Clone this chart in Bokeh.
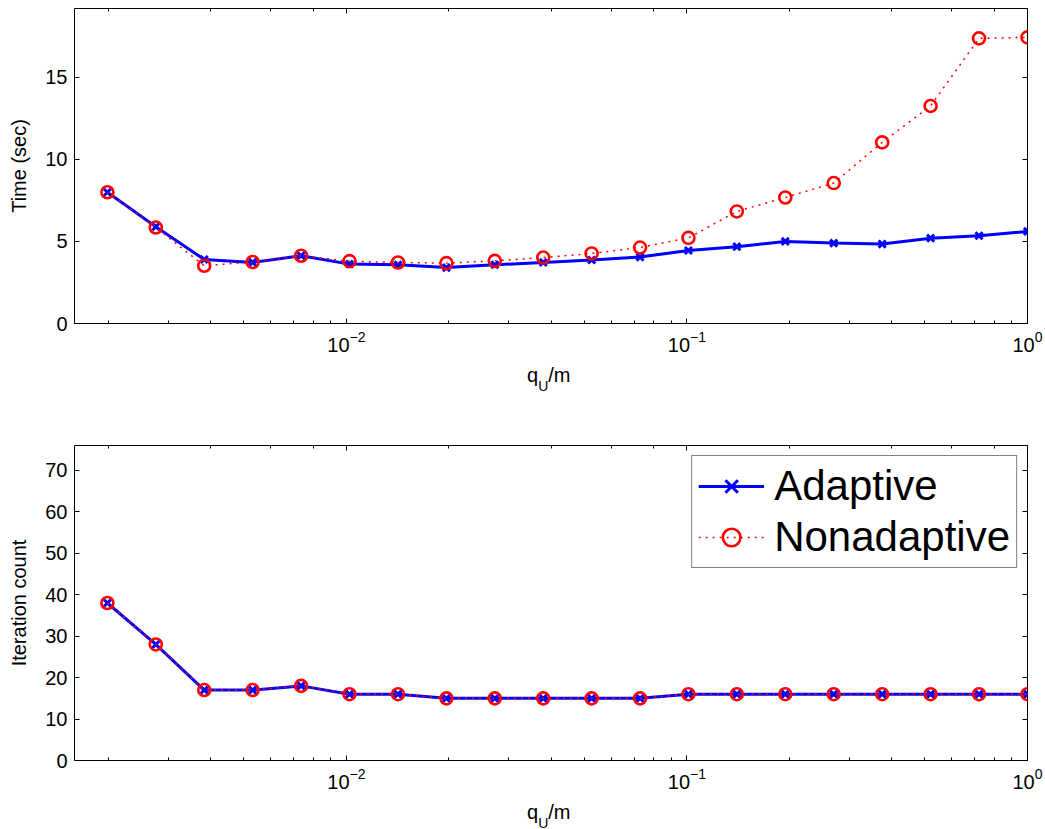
from bokeh.plotting import figure
from bokeh.models import (LogAxis, LinearAxis, FixedTicker, LogTicker, Div,
                          Legend, LegendItem, Range1d, CustomJSTickFormatter)
from bokeh.layouts import column
from bokeh.embed import file_html
from bokeh.resources import INLINE

# ---- data ----
q_over_m = [0.001986, 0.002755, 0.003823, 0.005304, 0.007360, 0.01021, 0.01417,
            0.01966, 0.02727, 0.03784, 0.05248, 0.07282, 0.1010, 0.1401, 0.1944,
            0.2698, 0.3743, 0.5193, 0.7206, 1.0]
time_adaptive = [8.0, 5.9, 3.9, 3.72, 4.13, 3.62, 3.58, 3.41, 3.58, 3.72, 3.87,
                 4.05, 4.45, 4.68, 5.0, 4.9, 4.84, 5.2, 5.35, 5.61]
time_nonadaptive = [8.0, 5.85, 3.52, 3.75, 4.13, 3.8, 3.72, 3.68, 3.82, 4.02, 4.27,
                    4.63, 5.22, 6.83, 7.68, 8.56, 11.04, 13.26, 17.38, 17.44]
iter_adaptive = [38, 28, 17, 17, 18, 16, 16, 15, 15, 15, 15, 15, 16, 16, 16, 16,
                 16, 16, 16, 16]
iter_nonadaptive = [38, 28, 17, 17, 18, 16, 16, 15, 15, 15, 15, 15, 16, 16, 16, 16,
                    16, 16, 16, 16]
time_ticks = [0, 5, 10, 15]
iter_ticks = [0, 10, 20, 30, 40, 50, 60, 70]
series_names = ["Adaptive", "Nonadaptive"]

FONT = "Liberation Sans"
X_RANGE = (0.00159, 1.0)


def style_axis(ax, labels=True, minor=True):
    ax.major_tick_in = 5
    ax.major_tick_out = 0
    ax.minor_tick_in = 3 if minor else 0
    ax.minor_tick_out = 0
    ax.axis_line_color = None
    ax.major_tick_line_color = "black"
    ax.minor_tick_line_color = "black" if minor else None
    if labels:
        ax.major_label_text_font = FONT
        ax.major_label_text_font_size = "20px"
        ax.major_label_text_color = "black"
        ax.major_label_standoff = 7
    else:
        ax.formatter = CustomJSTickFormatter(code="return ''")
        ax.major_label_standoff = 0


def make_panel(ya, yn, yticks, ymax, ylabel, top_border, bottom_border, legend=False):
    p = figure(x_axis_type="log", output_backend="svg", toolbar_location=None,
               frame_width=953, frame_height=315,
               x_range=Range1d(*X_RANGE), y_range=Range1d(0, ymax),
               min_border_left=74, min_border_right=18,
               min_border_top=top_border, min_border_bottom=bottom_border,
               background_fill_color="white", border_fill_color="white", margin=0)
    p.grid.visible = False
    p.outline_line_color = "black"
    p.outline_line_width = 1

    xa = p.xaxis[0]
    style_axis(xa)
    ya_ax = p.yaxis[0]
    ya_ax.ticker = FixedTicker(ticks=yticks)
    style_axis(ya_ax, minor=False)
    ya_ax.axis_label = ylabel
    ya_ax.axis_label_text_font = FONT
    ya_ax.axis_label_text_font_size = "20px"
    ya_ax.axis_label_text_font_style = "normal"
    ya_ax.axis_label_text_color = "black"
    ya_ax.axis_label_standoff = 12

    top = LogAxis(ticker=LogTicker())
    style_axis(top, labels=False)
    p.add_layout(top, "above")
    right = LinearAxis(ticker=FixedTicker(ticks=yticks))
    style_axis(right, labels=False, minor=False)
    p.add_layout(right, "right")

    la = p.line(q_over_m, ya, line_color="blue", line_width=3)
    sa = p.scatter(q_over_m, ya, marker="x", size=10, line_color="blue", line_width=3)
    ln = p.line(q_over_m, yn, line_color="red", line_width=1.5, line_dash="2 5")
    sn = p.scatter(q_over_m, yn, marker="circle", size=12, line_color="red",
                   line_width=2.6, fill_color=None)

    if legend:
        lg = Legend(items=[LegendItem(label=series_names[0], renderers=[la, sa]),
                           LegendItem(label=series_names[1], renderers=[ln, sn])],
                    location="top_right")
        lg.label_text_font = FONT
        lg.label_text_font_size = "42px"
        lg.label_text_color = "black"
        lg.glyph_width = 66
        lg.glyph_height = 44
        lg.label_height = 44
        lg.padding = 6
        lg.spacing = 3
        lg.margin = 10
        lg.label_standoff = 10
        lg.border_line_color = "black"
        lg.border_line_width = 1
        lg.background_fill_alpha = 1.0
        p.add_layout(lg, "center")
    return p


def xlabel_div(height):
    html = ('<div style="position:relative;width:1045px;height:%dpx;'
            'font-family:\'Liberation Sans\';font-size:20px;color:black;">'
            '<span style="position:absolute;left:527px;top:6px;white-space:nowrap;'
            'line-height:23px;">q<span style="font-size:14px;position:relative;'
            'top:9px;">U</span>/m</span></div>') % height
    return Div(text=html, width=1045, height=height, margin=0)


p1 = make_panel(time_adaptive, time_nonadaptive, time_ticks, 19.2, "Time (sec)", 8, 35)
p2 = make_panel(iter_adaptive, iter_nonadaptive, iter_ticks, 76, "Iteration count", 45, 35,
                legend=True)

layout = column(p1, xlabel_div(42), p2, xlabel_div(34), spacing=0)
open("out.html", "w").write(file_html(layout, INLINE))
